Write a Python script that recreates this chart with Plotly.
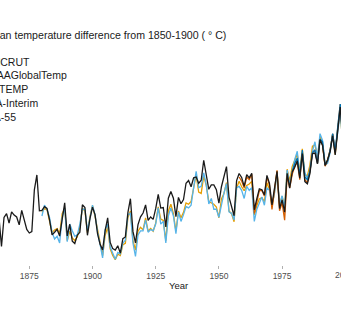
import plotly.graph_objects as go

# ---------------- data (annual anomalies) ----------------
had_years = list(range(1850, 2000))
had_vals = [-0.373, -0.218, -0.228, -0.269, -0.248, -0.272, -0.358, -0.461, -0.467, -0.284,
            -0.343, -0.407, -0.524, -0.278, -0.494, -0.279, -0.251, -0.321, -0.238, -0.262,
            -0.276, -0.335, -0.227, -0.304, -0.368, -0.395, -0.384, -0.075, 0.035, -0.230,
            -0.227, -0.200, -0.213, -0.296, -0.409, -0.389, -0.367, -0.418, -0.307, -0.171,
            -0.416, -0.330, -0.455, -0.473, -0.410, -0.390, -0.186, -0.206, -0.412, -0.289,
            -0.203, -0.259, -0.402, -0.479, -0.520, -0.377, -0.283, -0.465, -0.511, -0.522,
            -0.490, -0.544, -0.437, -0.424, -0.244, -0.141, -0.383, -0.468, -0.333, -0.275,
            -0.247, -0.187, -0.302, -0.276, -0.294, -0.215, -0.108, -0.210, -0.206, -0.350,
            -0.137, -0.087, -0.137, -0.273, -0.131, -0.178, -0.147, -0.026, -0.006, -0.052,
            0.014, 0.020, -0.027, -0.004, 0.144, 0.025, -0.071, -0.038, -0.039, -0.074,
            -0.173, -0.052, 0.028, 0.097, -0.129, -0.190, -0.267, -0.007, 0.046, 0.017,
            -0.049, 0.038, 0.014, 0.048, -0.223, -0.140, -0.068, -0.074, -0.113, 0.032,
            -0.027, -0.186, -0.065, 0.062, -0.214, -0.149, -0.241, 0.047, -0.062, 0.057,
            0.092, 0.140, 0.011, 0.194, -0.014, -0.030, 0.045, 0.192, 0.198, 0.118,
            0.296, 0.254, 0.105, 0.148, 0.208, 0.325, 0.183, 0.390, 0.539, 0.306]

noaa_years = list(range(1880, 2000))
noaa_vals = [-0.12, -0.09, -0.10, -0.18, -0.27, -0.25, -0.24, -0.28, -0.13, -0.09,
             -0.33, -0.26, -0.31, -0.33, -0.30, -0.23, -0.09, -0.11, -0.27, -0.15,
             -0.07, -0.15, -0.25, -0.37, -0.44, -0.29, -0.23, -0.39, -0.44, -0.47,
             -0.43, -0.44, -0.36, -0.35, -0.16, -0.11, -0.33, -0.40, -0.26, -0.23,
             -0.25, -0.16, -0.26, -0.24, -0.26, -0.20, -0.08, -0.17, -0.18, -0.33,
             -0.11, -0.06, -0.13, -0.26, -0.11, -0.16, -0.12, -0.05, -0.06, -0.04,
             0.07, 0.16, 0.03, 0.02, 0.15, 0.08, -0.04, -0.05, -0.06, -0.08,
             -0.16, -0.02, 0.02, 0.10, -0.11, -0.13, -0.19, 0.06, 0.11, 0.07,
             0.04, 0.08, 0.09, 0.11, -0.14, -0.07, -0.02, -0.01, -0.04, 0.10,
             0.05, -0.08, 0.03, 0.18, -0.07, 0.00, -0.08, 0.20, 0.11, 0.22,
             0.27, 0.31, 0.18, 0.35, 0.16, 0.15, 0.23, 0.37, 0.38, 0.29,
             0.44, 0.38, 0.23, 0.27, 0.34, 0.46, 0.31, 0.50, 0.62, 0.39]

gis_years = list(range(1880, 2000))
gis_vals = [-0.16, -0.08, -0.11, -0.17, -0.28, -0.33, -0.31, -0.36, -0.17, -0.10,
            -0.35, -0.22, -0.27, -0.31, -0.30, -0.22, -0.11, -0.11, -0.27, -0.17,
            -0.08, -0.15, -0.28, -0.37, -0.47, -0.26, -0.22, -0.39, -0.43, -0.48,
            -0.43, -0.44, -0.36, -0.34, -0.15, -0.14, -0.36, -0.46, -0.30, -0.27,
            -0.27, -0.19, -0.28, -0.26, -0.27, -0.22, -0.10, -0.22, -0.20, -0.36,
            -0.16, -0.10, -0.16, -0.29, -0.13, -0.20, -0.15, -0.09, -0.10, -0.08,
            0.05, 0.17, 0.05, 0.06, 0.16, 0.07, -0.07, -0.03, -0.11, -0.11,
            -0.17, -0.07, 0.01, 0.08, -0.13, -0.14, -0.19, 0.05, 0.06, 0.03,
            -0.03, 0.06, 0.03, 0.05, -0.20, -0.11, -0.06, -0.02, -0.08, 0.05,
            0.03, -0.08, 0.01, 0.16, -0.07, -0.01, -0.10, 0.18, 0.07, 0.16,
            0.26, 0.32, 0.14, 0.31, 0.16, 0.12, 0.18, 0.32, 0.39, 0.27,
            0.45, 0.40, 0.22, 0.23, 0.31, 0.45, 0.33, 0.46, 0.61, 0.38]

era_years = list(range(1979, 2000))
era_vals = [0.06, 0.12, 0.16, 0.03, 0.22, 0.02, 0.00, 0.06, 0.20, 0.22,
            0.12, 0.30, 0.28, 0.11, 0.14, 0.22, 0.34, 0.21, 0.39, 0.56, 0.32]

jra_years = list(range(1958, 2000))
jra_vals = [0.02, -0.01, -0.06, 0.02, 0.00, 0.04, -0.25, -0.17, -0.08, -0.08,
            -0.12, 0.02, -0.04, -0.22, -0.06, 0.07, -0.23, -0.17, -0.30, 0.03,
            -0.06, 0.04, 0.10, 0.13, 0.00, 0.20, 0.00, -0.02, 0.06, 0.20,
            0.22, 0.12, 0.30, 0.26, 0.10, 0.14, 0.22, 0.34, 0.20, 0.40, 0.56, 0.31]

# shifts that put every series on the 1850-1900 baseline
baseline_shift = {"HadCRUT": 0.312, "NOAAGlobalTemp": 0.19, "GISTEMP": 0.203,
                  "ERA-Interim": 0.312, "JRA-55": 0.312}

series_names = ["HadCRUT", "NOAAGlobalTemp", "GISTEMP", "ERA-Interim", "JRA-55"]
series_colors = {"HadCRUT": "#1a1a1a", "NOAAGlobalTemp": "#E69F00", "GISTEMP": "#56B4E9",
                 "ERA-Interim": "#0072B2", "JRA-55": "#D55E00"}
series_data = {"HadCRUT": (had_years, had_vals), "NOAAGlobalTemp": (noaa_years, noaa_vals),
               "GISTEMP": (gis_years, gis_vals), "ERA-Interim": (era_years, era_vals),
               "JRA-55": (jra_years, jra_vals)}

title_text = "Mean temperature difference from 1850-1900 ( ° C)"
x_ticks = [1875, 1900, 1925, 1950, 1975, 2000]

W, H = 341, 334
PL, PR, PT, PB = 0, 0, 40, 69
plot_w = W - PL - PR
plot_h = H - PT - PB

fig = go.Figure()
draw_order = ["NOAAGlobalTemp", "GISTEMP", "JRA-55", "ERA-Interim", "HadCRUT"]
for name in draw_order:
    yrs, vals = series_data[name]
    sh = baseline_shift[name]
    fig.add_trace(go.Scatter(
        x=yrs, y=[v + sh for v in vals], mode="lines", name=name,
        line=dict(color=series_colors[name], width=1.3),
        showlegend=False, hoverinfo="skip"))

font_fam = "Liberation Sans, Arial, sans-serif"
annotations = []
# title (its left part is cut off by the frame, as in the reference)
annotations.append(dict(text=title_text, xref="paper", yref="paper",
                        x=-17 / plot_w, y=1 + (PT - 35) / plot_h,
                        xanchor="left", yanchor="middle", showarrow=False,
                        font=dict(family=font_fam, size=10.6, color="#1a1a1a")))
# legend labels (symbols lie outside the frame)
for i, name in enumerate(series_names):
    ypix = 61.7 + i * 13.7
    annotations.append(dict(text=name, xref="paper", yref="paper",
                            x=-21 / plot_w, y=1 - (ypix - PT) / plot_h,
                            xanchor="left", yanchor="middle", showarrow=False,
                            font=dict(family=font_fam, size=10.5, color="#1a1a1a")))
# axis title
annotations.append(dict(text="Year", xref="paper", yref="paper",
                        x=178 / plot_w, y=-(285 - (H - PB)) / plot_h,
                        xanchor="center", yanchor="middle", showarrow=False,
                        font=dict(family=font_fam, size=9.5, color="#1a1a1a")))
# last tick label partially outside the frame
annotations.append(dict(text="2000", xref="paper", yref="paper",
                        x=344 / plot_w, y=-(275 - (H - PB)) / plot_h,
                        xanchor="center", yanchor="middle", showarrow=False,
                        font=dict(family=font_fam, size=8.5, color="#4d4d4d")))

px_per_year = 2.528
x0 = 1875 - 29.3 / px_per_year
x1 = x0 + plot_w / px_per_year

fig.update_layout(
    width=W, height=H,
    margin=dict(l=PL, r=PR, t=PT, b=PB, pad=0),
    paper_bgcolor="white", plot_bgcolor="white",
    showlegend=False,
    annotations=annotations,
    xaxis=dict(range=[x0, x1], tickvals=x_ticks, ticks="outside", ticklen=3,
               tickcolor="#b0b0b0", tickwidth=1, showgrid=False, zeroline=False,
               showline=False, tickfont=dict(family=font_fam, size=8.5, color="#4d4d4d")),
    yaxis=dict(range=[-0.32, 1.347], showticklabels=False, showgrid=False,
               zeroline=False, showline=False, ticks=""),
)

fig.write_html("out.html")
